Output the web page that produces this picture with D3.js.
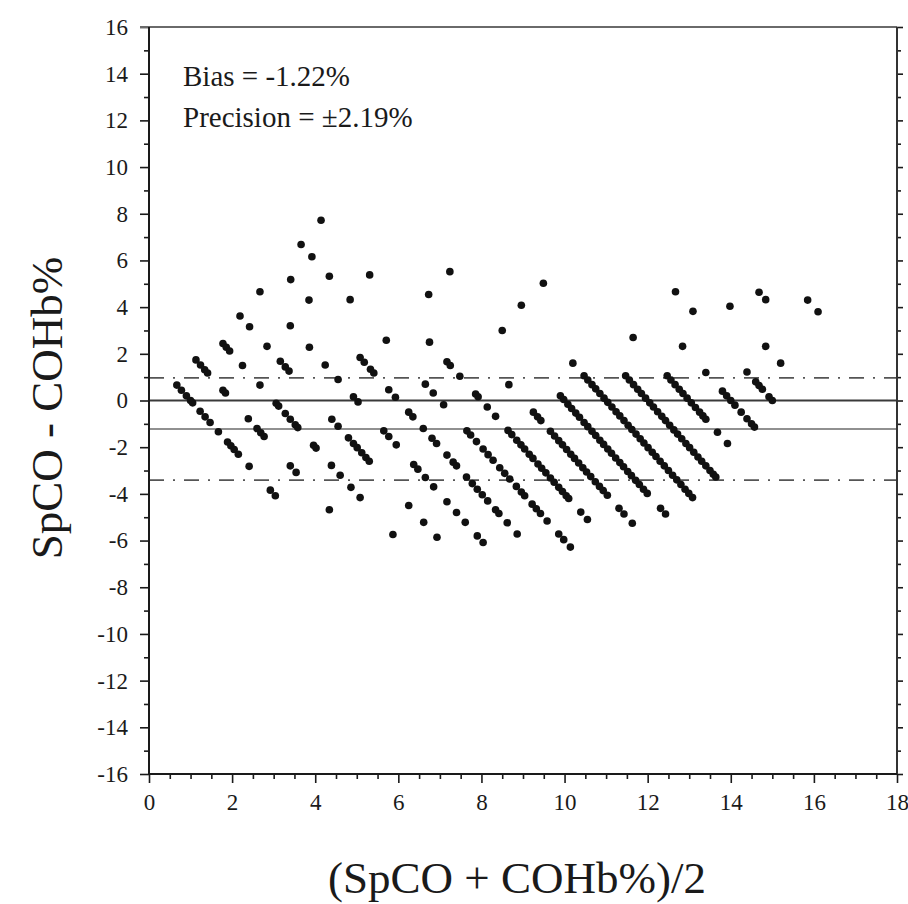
<!DOCTYPE html>
<html>
<head>
<meta charset="utf-8">
<script src="https://cdn.jsdelivr.net/npm/d3@7"></script>
<style>
  html, body { margin: 0; padding: 0; background: #fff; }
  svg { display: block; }
</style>
</head>
<body>
<svg id="chart" width="908" height="904"></svg>
<script>
// ── Bland–Altman plot: SpCO vs COHb% ────────────────────────────────────────
// Each reading pair is plotted at mean (x) vs difference SpCO − COHb (y).
// SpCO is reported in whole percent, so pairs fall on diagonal lines.

// SpCO reading levels (whole %) and the COHb% values paired with each level
const spcoLevels = [1, 2, 3, 4, 5, 6, 7, 8, 9, 10, 11, 12, 13, 14, 15, 16, 17, 18];
const cohbReadings = [
  [0.34, 0.56, 0.8, 1.0, 1.1, 1.46, 1.7, 1.94, 2.34, 2.78, 2.94, 3.1, 3.3, 3.82, 4.84, 5.08],
  [0.26, 0.48, 0.68, 0.82, 1.56, 1.68, 2.78, 3.2, 3.38, 3.54, 4.8, 5.08, 6.68],
  [0.56, 0.72, 0.88, 1.5, 2.34, 3.12, 3.24, 3.56, 3.8, 4.04, 4.16, 4.92, 5.04, 5.78, 6.2, 6.72, 7.16, 8.74],
  [0.38, 0.84, 1.68, 2.32, 2.56, 2.74, 4.8, 5.1, 5.6, 5.84, 6.02, 6.24, 6.44, 6.6, 8.5, 9.22, 9.86],
  [0.34, 1.8, 2.72, 3.48, 4.1, 4.84, 5.06, 6.3, 6.54, 6.9, 7.74, 7.94, 8.3, 8.7, 9.34, 9.8, 10.22, 10.8, 11.08],
  [0.82, 1.7, 4.16, 4.36, 4.66, 4.82, 5.54, 5.86, 6.5, 6.7, 7.2, 7.62, 7.84, 8.34, 8.64, 8.8, 9.28, 9.56, 9.8,
   10.04, 10.3, 10.68, 10.84, 11.24, 11.72],
  [0.32, 0.84, 1.68, 2.68, 4.42, 6.3, 6.68, 7.18, 8.3, 8.48, 8.76, 9.08, 9.32, 9.56, 9.88, 10.12, 10.36, 10.68,
   10.92, 11.08, 11.44, 11.64, 11.84, 12.16, 12.72, 12.96, 13.28],
  [0.28, 2.62, 5.5, 6.34, 6.5, 6.96, 7.72, 7.84, 8.28, 8.68, 9.28, 9.46, 9.7, 9.9, 10.08, 10.3, 10.48, 10.72,
   10.9, 11.1, 11.32, 11.5, 11.72, 11.9, 12.08, 12.2, 12.78, 13.1],
  [4.46, 8.32, 9.5, 9.7, 9.86, 10.32, 10.52, 10.72, 10.9, 11.1, 11.3, 11.48, 11.68, 11.88, 12.06, 12.26, 12.48,
   12.68, 12.86, 13.06, 13.62, 13.86, 14.26],
  [4.48, 7.0, 9.8, 9.96, 10.16, 10.34, 10.54, 10.72, 10.94, 11.12, 11.32, 11.5, 11.7, 11.88, 12.08, 12.26, 12.46,
   12.66, 12.84, 13.04, 13.22, 13.42, 13.6, 13.8, 13.98, 14.62, 14.86],
  [6.92, 9.4, 9.94, 10.12, 10.32, 10.5, 10.7, 10.9, 11.08, 11.28, 11.48, 11.66, 11.86, 12.06, 12.24, 12.44, 12.64,
   12.82, 13.02, 13.22, 13.4, 13.6, 13.8, 14.0, 14.2, 14.4, 14.6, 14.8, 14.98, 15.16],
  [6.98, 10.94, 11.12, 11.32, 11.52, 11.7, 11.9, 12.1, 12.28, 12.48, 12.68, 12.86, 13.06, 13.26, 13.44, 13.64,
   13.84, 14.02, 14.22, 14.42, 14.6, 14.8, 15.0, 15.16, 15.28],
  [10.3, 11.94, 12.12, 12.32, 12.52, 12.7, 12.9, 13.1, 13.3, 13.5, 13.66, 13.8, 14.36, 14.84],
  [11.68, 12.8, 13.6, 13.8, 14.0, 14.2, 14.5, 14.78, 15.0, 15.14],
  [10.34, 11.18, 13.78, 14.2, 14.36, 14.52, 14.84, 15.0],
  [11.96, 13.68, 14.4],
  [12.36, 12.68],
  [13.7, 14.2],
];

// Summary statistics printed on the figure
const bias = -1.22;
const precision = 2.19;

// Axis ticks
const xMajorTicks = [0, 2, 4, 6, 8, 10, 12, 14, 16, 18];
const xMinorTicks = [0.5, 1, 1.5, 2.5, 3, 3.5, 4.5, 5, 5.5, 6.5, 7, 7.5, 8.5, 9, 9.5, 10.5, 11, 11.5,
                     12.5, 13, 13.5, 14.5, 15, 15.5, 16.5, 17, 17.5];
const yMajorTicks = [-16, -14, -12, -10, -8, -6, -4, -2, 0, 2, 4, 6, 8, 10, 12, 14, 16];
const yMinorTicks = [-15, -13, -11, -9, -7, -5, -3, -1, 1, 3, 5, 7, 9, 11, 13, 15];

const SERIF = '"Liberation Serif", "Times New Roman", serif';
const INK = '#1a1a1a';

const svg = d3.select('#chart');
const W = 908, H = 904;
const L = 149, R = 897, T = 27, B = 774;

svg.append('rect').attr('width', W).attr('height', H).attr('fill', '#fff');

const x = d3.scaleLinear().domain([0, 18]).range([L, R]);
const y = d3.scaleLinear().domain([-16, 16]).range([B, T]);

// ── Points (mean vs difference) ──────────────────────────────────────────
const points = [];
spcoLevels.forEach((s, i) => {
  cohbReadings[i].forEach(c => points.push({ mean: (s + c) / 2, diff: s - c }));
});

// ── Reference lines ──────────────────────────────────────────────────────
const refG = svg.append('g');
refG.append('line')
  .attr('x1', L).attr('x2', R).attr('y1', y(0)).attr('y2', y(0))
  .attr('stroke', '#3a3a3a').attr('stroke-width', 2);
refG.append('line')
  .attr('x1', L).attr('x2', R).attr('y1', y(bias)).attr('y2', y(bias))
  .attr('stroke', '#222').attr('stroke-width', 1.2);
[bias + precision, bias - precision].forEach(v => {
  refG.append('line')
    .attr('x1', L).attr('x2', R).attr('y1', y(v)).attr('y2', y(v))
    .attr('stroke', '#555').attr('stroke-width', 1.8)
    .attr('stroke-dasharray', '15,9,2,9');
});

svg.append('g')
  .selectAll('circle')
  .data(points)
  .join('circle')
    .attr('cx', d => x(d.mean))
    .attr('cy', d => y(d.diff))
    .attr('r', 3.8)
    .attr('fill', '#111');

// ── Axes ─────────────────────────────────────────────────────────────────
const fmt = d => String(d);

function styleAxis(g, size) {
  g.select('.domain').remove();
  g.selectAll('.tick line').attr('stroke', INK).attr('stroke-width', 1.6);
  g.selectAll('.tick text').attr('font-size', size).attr('font-family', SERIF).attr('fill', INK);
}

svg.append('g')
  .attr('transform', `translate(${L},0)`)
  .call(d3.axisLeft(y).tickValues(yMajorTicks).tickSize(9).tickPadding(12).tickFormat(fmt))
  .call(g => styleAxis(g, 23));
svg.append('g')
  .attr('transform', `translate(${L},0)`)
  .call(d3.axisLeft(y).tickValues(yMinorTicks).tickSize(5).tickFormat(''))
  .call(g => styleAxis(g, 0));

svg.append('g')
  .attr('transform', `translate(${R},0)`)
  .call(d3.axisRight(y).tickValues(yMajorTicks).tickSize(6).tickFormat(''))
  .call(g => styleAxis(g, 0));
svg.append('g')
  .attr('transform', `translate(${R},0)`)
  .call(d3.axisRight(y).tickValues(yMinorTicks).tickSize(4).tickFormat(''))
  .call(g => styleAxis(g, 0));

svg.append('g')
  .attr('transform', `translate(0,${B})`)
  .call(d3.axisBottom(x).tickValues(xMajorTicks).tickSize(9).tickPadding(11).tickFormat(fmt))
  .call(g => styleAxis(g, 23));
svg.append('g')
  .attr('transform', `translate(0,${B})`)
  .call(d3.axisBottom(x).tickValues(xMinorTicks).tickSize(5).tickFormat(''))
  .call(g => styleAxis(g, 0));

// ── Frame ────────────────────────────────────────────────────────────────
svg.append('line').attr('x1', L - 9).attr('x2', R).attr('y1', T).attr('y2', T)
  .attr('stroke', '#6a6a6a').attr('stroke-width', 2);
svg.append('line').attr('x1', L).attr('x2', L).attr('y1', T).attr('y2', B)
  .attr('stroke', INK).attr('stroke-width', 2);
svg.append('line').attr('x1', R).attr('x2', R).attr('y1', T).attr('y2', B)
  .attr('stroke', '#333').attr('stroke-width', 2);
svg.append('line').attr('x1', L).attr('x2', R).attr('y1', B).attr('y2', B)
  .attr('stroke', INK).attr('stroke-width', 2);

// ── Annotation ───────────────────────────────────────────────────────────
const note = svg.append('g')
  .attr('font-family', SERIF).attr('font-size', 29).attr('fill', INK);
note.append('text').attr('x', 183).attr('y', 86).text(`Bias = ${bias.toFixed(2)}%`);
note.append('text').attr('x', 183).attr('y', 127).text(`Precision = \u00b1${precision.toFixed(2)}%`);

// ── Axis titles ──────────────────────────────────────────────────────────
svg.append('text')
  .attr('x', 517).attr('y', 893)
  .attr('text-anchor', 'middle')
  .attr('font-family', SERIF).attr('font-size', 45).attr('fill', INK)
  .text('(SpCO + COHb%)/2');

svg.append('text')
  .attr('transform', 'translate(62,408) rotate(-90)')
  .attr('text-anchor', 'middle')
  .attr('font-family', SERIF).attr('font-size', 45).attr('fill', INK)
  .text('SpCO - COHb%');
</script>
</body>
</html>
